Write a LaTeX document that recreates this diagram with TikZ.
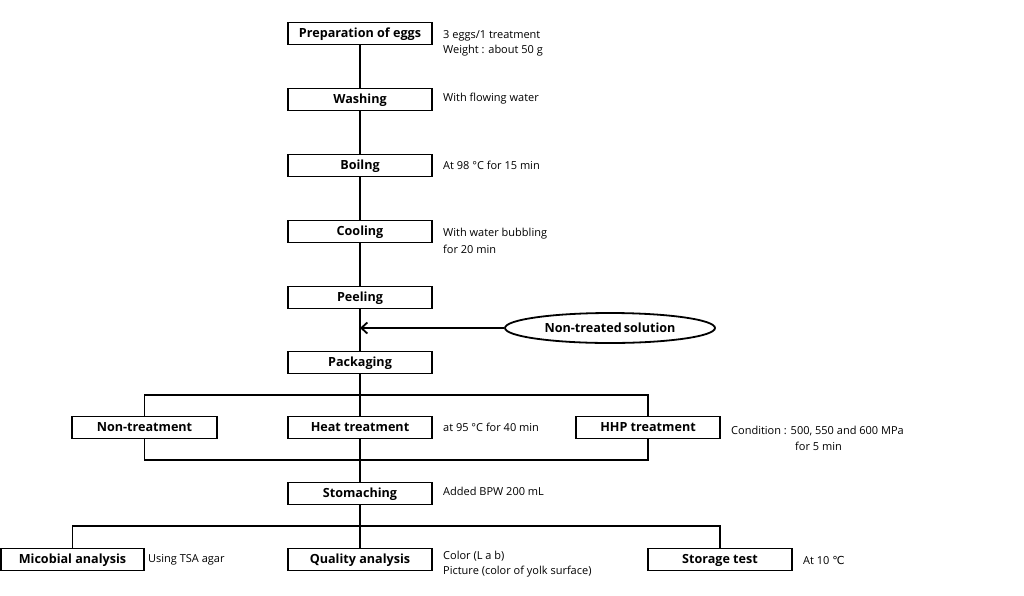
\documentclass[tikz,border=0pt]{standalone}
\usepackage{fontspec}
\setmainfont{Open Sans}
\newfontfamily\dejavu{DejaVu Sans}
\usetikzlibrary{shapes.geometric,arrows.meta}
\begin{document}
\begin{tikzpicture}[x=1pt,y=-1pt,
  stepbox/.style={draw,line width=1.8pt,minimum width=144pt,minimum height=22pt,inner sep=0pt,
    text height=10pt,text depth=2pt,
    font=\fontsize{12.6}{14}\selectfont\bfseries},
  note/.style={anchor=west,font=\fontsize{11}{12}\selectfont,inner sep=0pt},
  conn/.style={line width=1.8pt}]
\useasboundingbox[fill=white] (0,0) rectangle (1024,595);
% main column
\node[stepbox] (prep) at (360,33.5) {Preparation of eggs};
\node[stepbox] (wash) at (360,99.5) {Washing};
\node[stepbox] (boil) at (360,165.5) {Boilng};
\node[stepbox] (cool) at (360,231.5) {Cooling};
\node[stepbox] (peel) at (360,297.5) {Peeling};
\node[stepbox] (pack) at (360,362.5) {Packaging};
\node[draw,ellipse,line width=1.8pt,minimum width=210pt,minimum height=30pt,inner sep=0pt,
  text height=10pt,text depth=2pt,
  font=\fontsize{12.6}{14}\selectfont\bfseries] (sol) at (610,328) {Non-treated\,solution};
\node[stepbox,minimum width=145pt] (nontr) at (144.5,427.5) {Non-treatment};
\node[stepbox] (heat) at (360,427.5) {Heat treatment};
\node[stepbox] (hhp) at (648,427.5) {HHP treatment};
\node[stepbox] (stom) at (360,493.5) {Stomaching};
\node[stepbox,minimum width=143pt] (micro) at (72.5,559.5) {Micobial analysis};
\node[stepbox] (qual) at (360,559.5) {Quality analysis};
\node[stepbox] (stor) at (720,559.5) {Storage test};
% coordinates
\coordinate (arr) at (360,328);
\coordinate (t1) at (144.5,395);
\coordinate (t2) at (648,395);
\coordinate (u1) at (144.5,460);
\coordinate (u2) at (648,460);
\coordinate (v1) at (72.5,526);
\coordinate (v2) at (720,526);
% connectors
\draw[conn] (prep) -- (wash);
\draw[conn] (wash) -- (boil);
\draw[conn] (boil) -- (cool);
\draw[conn] (cool) -- (peel);
\draw[conn] (peel) -- (pack);
\draw[conn,-{Straight Barb[length=6pt,width=11pt,line width=1.8pt]}] (sol.west) -- (arr);
\draw[conn] (pack) -- (heat);
\draw[conn] (nontr.north) -- (t1) -- (t2) -- (hhp.north);
\draw[conn] (nontr.south) -- (u1) -- (u2) -- (hhp.south);
\draw[conn] (heat) -- (stom);
\draw[conn] (stom) -- (qual);
\draw[conn] (micro.north) -- (v1) -- (v2) -- (stor.north);
% notes
\node[note] (n1) at (443,36) {3 eggs/1 treatment};
\node[note] (n2) at (443,51) {Weight : about 50 g};
\node[note] (n3) at (443,99) {With flowing water};
\node[note] (n4) at (443,165) {At 98 °C for 15 min};
\node[note] (n5) at (443,234) {With water bubbling};
\node[note] (n6) at (443,249) {for 20 min};
\node[note] (n7) at (443,427) {at 95 °C for 40 min};
\node[note] (n8) at (731,431) {Condition : 500, 550 and 600 MPa};
\node[note] (n9) at (795,446) {for 5 min};
\node[note] (n10) at (443,491) {Added BPW 200 mL};
\node[note] (n11) at (148,560) {Using TSA agar};
\node[note] (n12) at (443,556) {Color (L a b)};
\node[note] (n13) at (443,572) {Picture (color of yolk surface)};
\node[note] (n14) at (803,560) {At 10 {\dejavu ℃}};
\end{tikzpicture}
\end{document}
